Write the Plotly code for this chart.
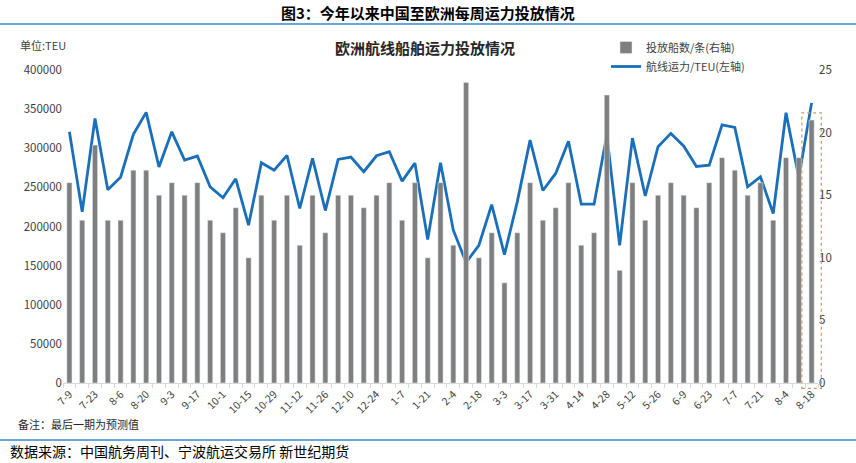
import plotly.graph_objects as go

weeks = ["7-9","7-16","7-23","7-30","8-6","8-13","8-20","8-27","9-3","9-10","9-17","9-24",
         "10-1","10-8","10-15","10-22","10-29","11-5","11-12","11-19","11-26","12-3","12-10",
         "12-17","12-24","12-31","1-7","1-14","1-21","1-28","2-4","2-11","2-18","2-25","3-3",
         "3-10","3-17","3-24","3-31","4-7","4-14","4-21","4-28","5-5","5-12","5-19","5-26",
         "6-2","6-9","6-16","6-23","6-30","7-7","7-14","7-21","7-28","8-4","8-11","8-18"]

ships = [16,13,19,13,13,17,17,15,16,15,16,13,12,14,10,15,13,15,11,15,12,15,15,14,15,16,13,16,
         10,16,11,24,10,12,8,12,16,13,14,16,11,12,23,9,16,13,15,16,15,14,16,18,17,15,16,13,18,18,21]

capacity = [321000,218700,338000,247000,263000,317700,345800,276000,321000,284800,290000,250700,
            236700,261000,201700,281400,272000,291000,223000,287000,220400,285700,288700,270000,
            290400,295500,258000,281000,183400,281400,195300,154000,176000,228000,164000,231500,
            310400,246000,267800,309000,228500,228500,316800,176000,313000,239000,302000,319000,
            303000,276700,278400,330000,326600,250700,263500,216600,345400,262700,358000]

tick_text = [w if i % 2 == 0 else "" for i, w in enumerate(weeks)]

FONT = "Noto Sans CJK SC"
BLUE = "#1a6fba"
GRAY = "#7f7f7f"

fig = go.Figure()
fig.add_trace(go.Bar(x=weeks, y=ships, name="投放船数/条(右轴)", marker_color=GRAY,
                     width=0.4, yaxis="y2"))
fig.add_trace(go.Scatter(x=weeks, y=capacity, name="航线运力/TEU(左轴)", mode="lines",
                         line=dict(color=BLUE, width=2.8), yaxis="y"))

n = len(weeks)
xc = (n - 1 + 0.5) / n  # paper position of last category center

fig.update_layout(
    width=856, height=463,
    margin=dict(l=63, r=38, t=70, b=80, autoexpand=False),
    paper_bgcolor="white", plot_bgcolor="white",
    font=dict(family=FONT, size=11, color="#404040"),
    showlegend=True,
    legend=dict(x=(606 - 63) / 755, y=(383 - 33) / 313, xanchor="left", yanchor="top",
                traceorder="normal",
                font=dict(size=11, color="#404040"), bgcolor="rgba(0,0,0,0)",
                itemwidth=30, tracegroupgap=0),
    xaxis=dict(type="category", tickmode="array", tickvals=weeks, ticktext=tick_text,
               tickangle=-45, tickson="boundaries", ticks="outside", ticklen=4,
               tickcolor="#d9d9d9", showline=True, linecolor="#d9d9d9", linewidth=1,
               showgrid=False, tickfont=dict(size=10.5, color="#404040"),
               range=[-0.5, n - 0.5], automargin=False),
    yaxis=dict(range=[0, 400000], dtick=50000, showgrid=False, showline=False,
               zeroline=False, ticks="", tickformat="d", automargin=False,
               tickfont=dict(size=11.5, color="#404040")),
    yaxis2=dict(range=[0, 25], dtick=5, overlaying="y", side="right", showgrid=False,
                showline=False, zeroline=False, ticks="", automargin=False,
                tickfont=dict(size=11.5, color="#404040")),
    bargap=0.6,
)

# highlight box around forecast bar
half = 0.76 / n
fig.add_shape(type="rect", xref="paper", yref="paper",
              x0=xc - half, x1=xc + half, y0=-0.017, y1=0.863,
              line=dict(color="#c49a70", width=1.2, dash="dot"), fillcolor="rgba(0,0,0,0)")

# header and footer rules
fig.add_shape(type="line", xref="paper", yref="paper", x0=-63/755, x1=(856-63)/755,
              y0=(383-24)/313, y1=(383-24)/313, line=dict(color="#3b84c8", width=1.5))
fig.add_shape(type="line", xref="paper", yref="paper", x0=-63/755, x1=(856-63)/755,
              y0=(383-440)/313, y1=(383-440)/313, line=dict(color="#3b84c8", width=1.5))

def pa(x, y, text, size, bold=False, xanchor="left", color="#000000", family=FONT):
    fig.add_annotation(xref="paper", yref="paper", x=(x - 63) / 755, y=(383 - y) / 313,
                       text=f"<b>{text}</b>" if bold else text, showarrow=False,
                       xanchor=xanchor, yanchor="middle",
                       font=dict(size=size, color=color, family=family))

pa(428, 12, "图3：今年以来中国至欧洲每周运力投放情况", 15, bold=True, xanchor="center")
pa(18, 45, "单位:TEU", 11, color="#404040")
pa(425, 47, "欧洲航线船舶运力投放情况", 15, bold=True, xanchor="center", color="#262626")
pa(16, 424, "备注：最后一期为预测值", 11, color="#262626")
pa(8, 451, "数据来源：中国航务周刊、宁波航运交易所 新世纪期货", 14, color="#000000")

fig.write_html("out.html")
